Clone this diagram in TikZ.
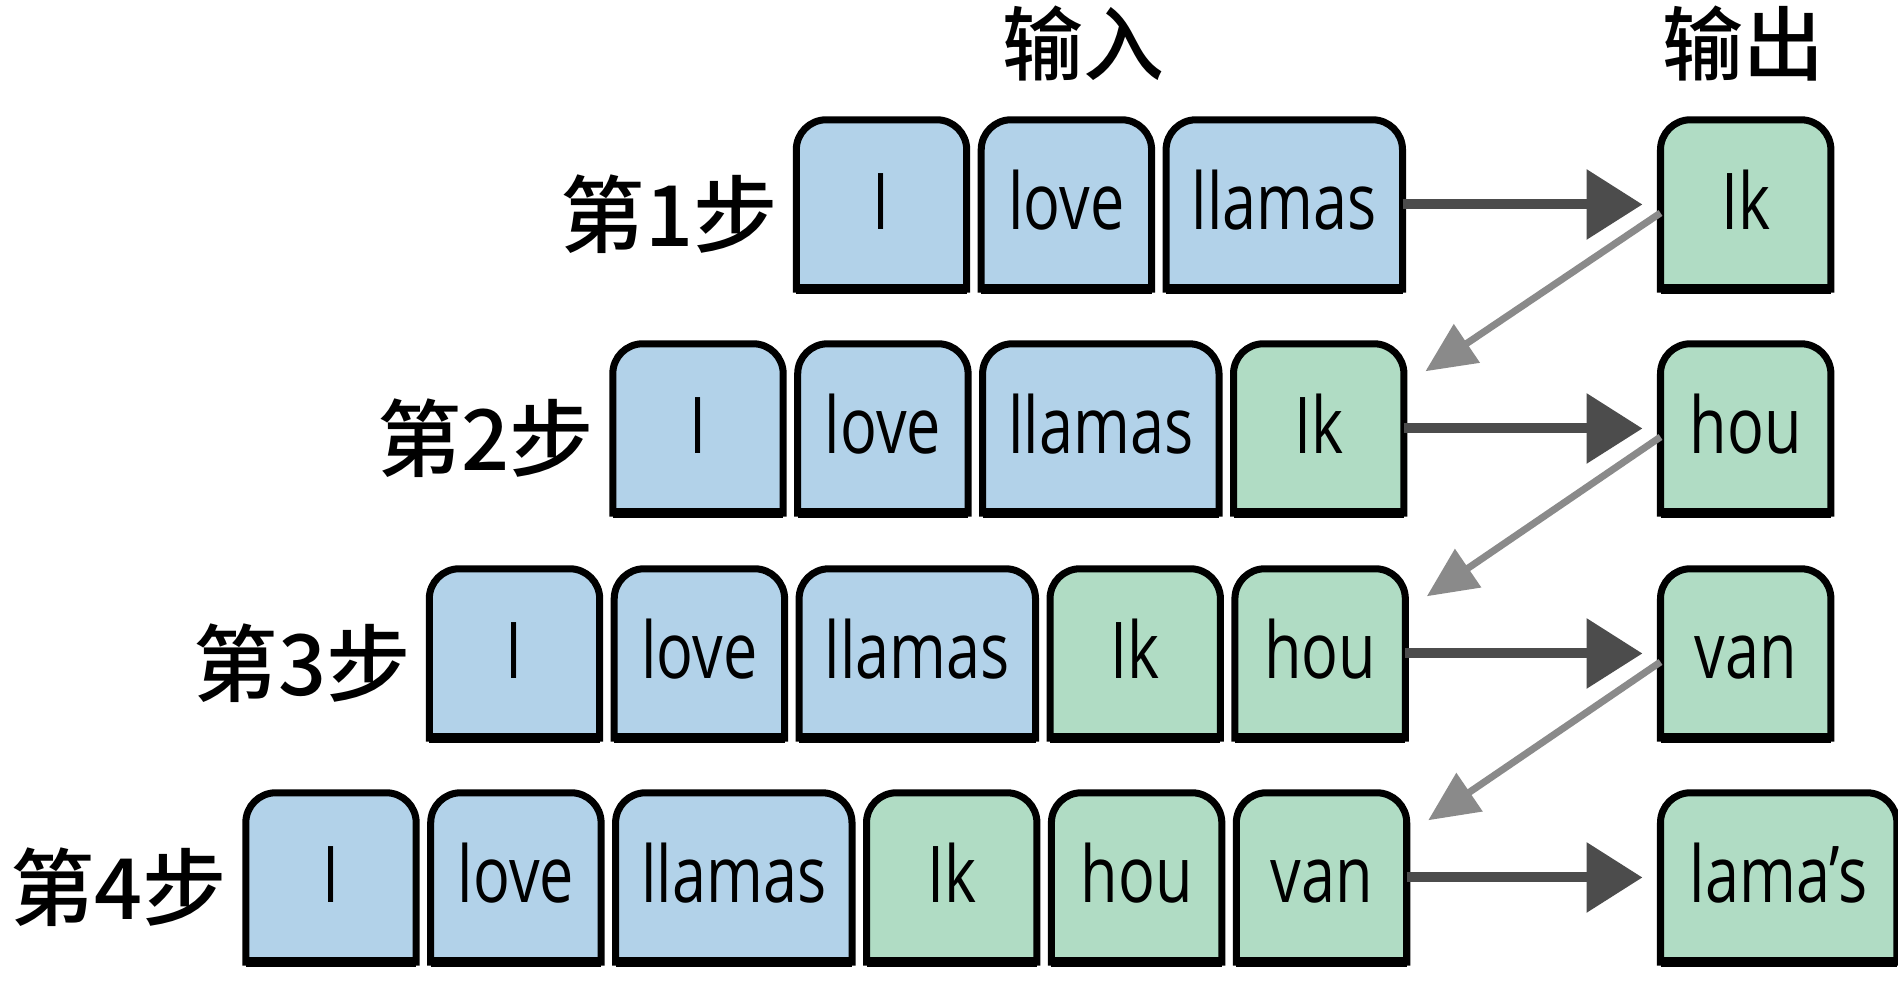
\documentclass[tikz,border=0pt]{standalone}
\usepackage{fontspec}
\usepackage{tikz}
\usetikzlibrary{
    arrows.meta,
    positioning,
    backgrounds
}
\setmainfont{Open Sans}[FakeStretch=0.78]
\newfontfamily\cjkfont{Noto Sans CJK SC Medium}
\newcommand\tokfont{\fontsize{22.3pt}{25pt}\selectfont}
\newcommand\stepfont{\cjkfont\fontsize{24pt}{27pt}\selectfont}
\newcommand\titlefont{\cjkfont\fontsize{23pt}{26pt}\selectfont}
\definecolor{tokblue}{RGB}{178, 210, 233}
\definecolor{tokgreen}{RGB}{176, 220, 196}
\definecolor{arrowdark}{RGB}{76, 76, 76}
\definecolor{arrowgray}{RGB}{138, 138, 138}

\begin{document}
\begin{tikzpicture}[
        tok/.style={minimum width=1.69cm, minimum height=1.68cm, inner sep=0pt,
            text height=0.55cm, text depth=0.04cm, font=\tokfont,
            append after command={\pgfextra{\let\tokname\tikzlastnode
                \begin{pgfonlayer}{background}
                \draw[line width=2pt, fill=#1]
                    (\tokname.south west) -- ([yshift=-0.3cm]\tokname.north west)
                    arc[start angle=180, end angle=90, radius=0.3cm]
                    -- ([xshift=-0.3cm]\tokname.north east)
                    arc[start angle=90, end angle=0, radius=0.3cm]
                    -- (\tokname.south east) -- cycle;
                \draw[line width=2.8pt] (\tokname.south west) -- (\tokname.south east);
                \end{pgfonlayer}}}},
        wide/.style={minimum width=2.35cm},
        steplabel/.style={inner sep=0pt, font=\stepfont},
        title/.style={inner sep=0pt, font=\titlefont},
        fwd/.style={-{Triangle[length=0.56cm, width=0.68cm]}, line width=0.1cm, draw=arrowdark, shorten >=0.18cm},
        back/.style={-{Triangle[length=0.5cm, width=0.45cm]}, line width=0.07cm, draw=arrowgray}
    ]
        \useasboundingbox (0, 0) rectangle (18.98, 10.03);

        % Titles
        \node[title] (inp) at (10.83, 9.59) {输入};
        \node[title] (outp) at (17.43, 9.59) {输出};

        % Step 1
        \node[tok=tokblue] (s1i) at (8.815, 7.985) {I};
        \node[tok=tokblue, right=0.145cm of s1i] (s1love) {love};
        \node[tok=tokblue, wide, right=0.145cm of s1love] (s1llamas) {llamas};
        \node[steplabel, left=0.18cm of s1i, yshift=-0.1cm] (st1) {第1步};

        % Step 2
        \node[tok=tokblue] (s2i) at (6.98, 5.745) {I};
        \node[tok=tokblue, right=0.145cm of s2i] (s2love) {love};
        \node[tok=tokblue, wide, right=0.145cm of s2love] (s2llamas) {llamas};
        \node[tok=tokgreen, right=0.145cm of s2llamas] (s2ik) {Ik};
        \node[steplabel, left=0.18cm of s2i, yshift=-0.1cm] (st2) {第2步};

        % Step 3
        \node[tok=tokblue] (s3i) at (5.145, 3.495) {I};
        \node[tok=tokblue, right=0.145cm of s3i] (s3love) {love};
        \node[tok=tokblue, wide, right=0.145cm of s3love] (s3llamas) {llamas};
        \node[tok=tokgreen, right=0.145cm of s3llamas] (s3ik) {Ik};
        \node[tok=tokgreen, right=0.145cm of s3ik] (s3hou) {hou};
        \node[steplabel, left=0.18cm of s3i, yshift=-0.1cm] (st3) {第3步};

        % Step 4
        \node[tok=tokblue] (s4i) at (3.31, 1.255) {I};
        \node[tok=tokblue, right=0.145cm of s4i] (s4love) {love};
        \node[tok=tokblue, wide, right=0.145cm of s4love] (s4llamas) {llamas};
        \node[tok=tokgreen, right=0.145cm of s4llamas] (s4ik) {Ik};
        \node[tok=tokgreen, right=0.145cm of s4ik] (s4hou) {hou};
        \node[tok=tokgreen, right=0.145cm of s4hou] (s4van) {van};
        \node[steplabel, left=0.18cm of s4i, yshift=-0.1cm] (st4) {第4步};

        % Outputs
        \node[tok=tokgreen, anchor=west] (o1) at (16.605, 7.985) {Ik};
        \node[tok=tokgreen, anchor=west] (o2) at (16.605, 5.745) {hou};
        \node[tok=tokgreen, anchor=west] (o3) at (16.605, 3.495) {van};
        \node[tok=tokgreen, wide, anchor=west] (o4) at (16.605, 1.255) {lama’s};

        % Arrows
        \draw[fwd] (s1llamas.east) -- (o1.west);
        \draw[fwd] (s2ik.east) -- (o2.west);
        \draw[fwd] (s3hou.east) -- (o3.west);
        \draw[fwd] (s4van.east) -- (o4.west);

        % Feedback
        \draw[back] ([yshift=-0.085cm]o1.west) -- ([shift={(0.215,-0.275)}]s2ik.north east);
        \draw[back] ([yshift=-0.085cm]o2.west) -- ([shift={(0.215,-0.275)}]s3hou.north east);
        \draw[back] ([yshift=-0.085cm]o3.west) -- ([shift={(0.215,-0.275)}]s4van.north east);
    \end{tikzpicture}
\end{document}
